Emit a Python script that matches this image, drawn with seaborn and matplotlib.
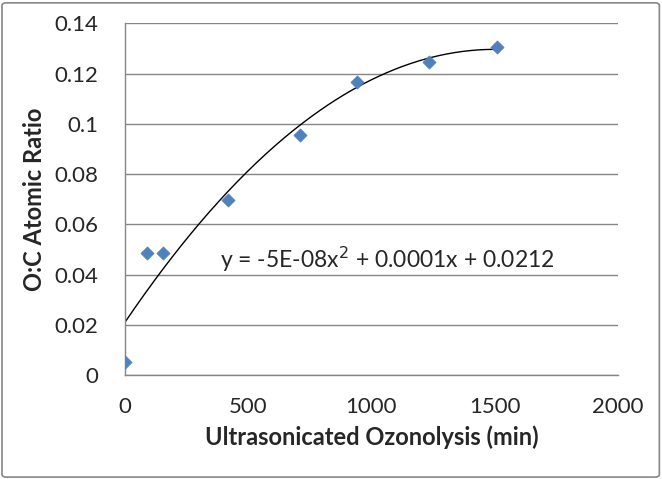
import numpy as np
import pandas as pd
import matplotlib
matplotlib.use('Agg')
import matplotlib.pyplot as plt
import seaborn as sns
from matplotlib.patches import FancyBboxPatch

time_min = [0, 87, 154, 419, 710, 943, 1232, 1512]
oc_ratio = [0.0053, 0.0485, 0.0485, 0.0697, 0.0956, 0.1168, 0.1248, 0.1308]
x_ticks = [0, 500, 1000, 1500, 2000]
y_ticks = [0, 0.02, 0.04, 0.06, 0.08, 0.1, 0.12, 0.14]
y_tick_labels = ['0', '0.02', '0.04', '0.06', '0.08', '0.1', '0.12', '0.14']
equation = 'y = -5E-08x$^2$ + 0.0001x + 0.0212'

data = pd.DataFrame({'time': time_min, 'ratio': oc_ratio})

# second order trendline, like the Excel one
coef = np.polyfit(data['time'], data['ratio'], 2)
xs = np.linspace(0, max(time_min), 200)
trend = pd.DataFrame({'time': xs, 'ratio': np.polyval(coef, xs)})

sns.set_style('white')
plt.rcParams['font.family'] = ['Lato', 'DejaVu Sans']
grid_col = '#868686'

fig = plt.figure(figsize=(6.62, 4.79), dpi=100)
ax = fig.add_axes([0.189, 0.217, 0.744, 0.734])

sns.lineplot(data=trend, x='time', y='ratio', color='black', linewidth=1, ax=ax)
sns.scatterplot(data=data, x='time', y='ratio', marker='D', s=45, color='#4F81BD',
                edgecolor='#4F81BD', linewidth=0.5, ax=ax, zorder=3)

ax.set_xlim(0, 2000)
ax.set_ylim(0, 0.14)
ax.set_xticks(x_ticks)
ax.set_yticks(y_ticks)
ax.set_yticklabels(y_tick_labels)
ax.tick_params(axis='both', labelsize=16, direction='out', length=9, width=1,
               color=grid_col)
ax.tick_params(axis='x', pad=7)
ax.tick_params(axis='y', pad=10)
ax.yaxis.grid(True, color=grid_col, linewidth=1)
ax.set_axisbelow(True)
for side in ['top', 'right']:
    ax.spines[side].set_visible(False)
for side in ['left', 'bottom']:
    ax.spines[side].set_color(grid_col)
    ax.spines[side].set_linewidth(1)

ax.set_xlabel('Ultrasonicated Ozonolysis (min)', fontsize=17, fontweight='bold', labelpad=6)
ax.set_ylabel('O:C Atomic Ratio', fontsize=17, fontweight='bold', labelpad=6)

ax.text(385, 0.0462, equation, fontsize=16.5, va='center', ha='left')

border = FancyBboxPatch((0.003, 0.004), 0.993, 0.99, boxstyle='round,pad=0,rounding_size=0.006',
                        transform=fig.transFigure, fill=False, edgecolor=grid_col, linewidth=1.2)
fig.patches.append(border)

fig.savefig('out.png', dpi=100)
